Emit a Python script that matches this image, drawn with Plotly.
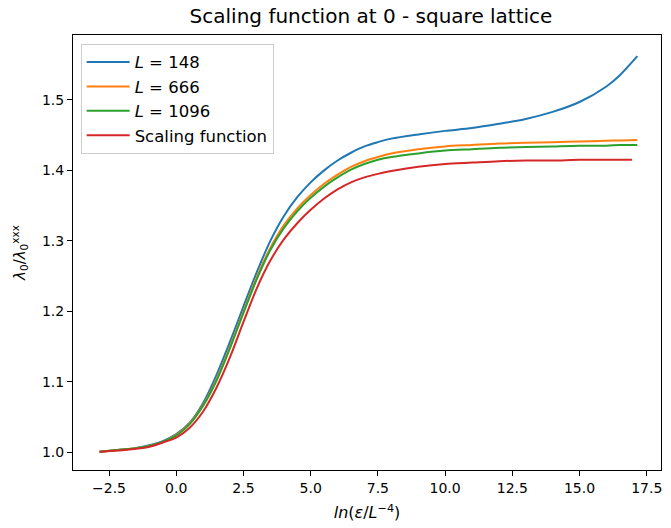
import plotly.graph_objects as go

# Data
x_L = [-2.85, -2, -1.5, -1, -0.5, 0, 0.5, 1, 1.5, 2, 2.5, 3, 3.5, 4, 4.5, 5, 5.5, 6, 6.5, 7, 7.5, 8, 9, 10, 11, 12, 13, 14, 15, 16, 16.5, 17.15]
blue_L148 = [1.001, 1.004, 1.006, 1.010, 1.016, 1.026, 1.042, 1.070, 1.110, 1.157, 1.207, 1.256, 1.300, 1.335, 1.362, 1.383, 1.400, 1.414, 1.425, 1.434, 1.440, 1.445, 1.451, 1.456, 1.460, 1.466, 1.473, 1.483, 1.497, 1.519, 1.535, 1.562]
orange_L666 = [1.001, 1.004, 1.006, 1.009, 1.015, 1.025, 1.041, 1.067, 1.104, 1.150, 1.200, 1.249, 1.290, 1.322, 1.346, 1.365, 1.381, 1.394, 1.405, 1.413, 1.419, 1.424, 1.430, 1.434, 1.436, 1.438, 1.439, 1.440, 1.441, 1.442, 1.4425, 1.443]
green_L1096 = [1.001, 1.004, 1.006, 1.009, 1.015, 1.024, 1.040, 1.066, 1.102, 1.148, 1.198, 1.246, 1.287, 1.318, 1.342, 1.361, 1.377, 1.390, 1.401, 1.409, 1.415, 1.419, 1.424, 1.428, 1.430, 1.432, 1.433, 1.434, 1.435, 1.435, 1.436, 1.436]
x_scaling = [-2.85, -2, -1.5, -1, -0.5, 0, 0.5, 1, 1.5, 2, 2.5, 3, 3.5, 4, 4.5, 5, 5.5, 6, 6.5, 7, 7.5, 8, 9, 10, 11, 12, 13, 14, 15, 16, 16.5, 16.95]
red_scaling = [1.001, 1.003, 1.005, 1.008, 1.014, 1.021, 1.035, 1.058, 1.092, 1.135, 1.185, 1.233, 1.272, 1.302, 1.325, 1.344, 1.360, 1.373, 1.383, 1.390, 1.395, 1.399, 1.405, 1.409, 1.411, 1.413, 1.414, 1.414, 1.415, 1.415, 1.415, 1.415]

x_ticks = [-2.5, 0, 2.5, 5, 7.5, 10, 12.5, 15, 17.5]
x_ticklabels = ["−2.5", "0.0", "2.5", "5.0", "7.5", "10.0", "12.5", "15.0", "17.5"]
y_ticks = [1.0, 1.1, 1.2, 1.3, 1.4, 1.5]
y_ticklabels = ["1.0", "1.1", "1.2", "1.3", "1.4", "1.5"]

series = [
    ("<i>L</i> = 148", x_L, blue_L148, "#1f77b4"),
    ("<i>L</i> = 666", x_L, orange_L666, "#ff7f0e"),
    ("<i>L</i> = 1096", x_L, green_L1096, "#2ca02c"),
    ("Scaling function", x_scaling, red_scaling, "#d62728"),
]

fig = go.Figure()
for i, (name, xs, ys, col) in enumerate(series):
    fig.add_trace(go.Scatter(x=xs, y=ys, mode="lines", name=name,
                             line=dict(color=col, width=2, shape="spline", smoothing=0.8),
                             legendgroup=f"g{i}"))

font = "DejaVu Sans, sans-serif"
axis_common = dict(showline=True, linecolor="black", linewidth=1, mirror=True,
                   ticks="outside", ticklen=5, tickcolor="black", tickwidth=1,
                   showgrid=False, zeroline=False,
                   tickfont=dict(family=font, size=14, color="black"))

fig.update_layout(
    width=671, height=528,
    margin=dict(l=73, r=9, t=35, b=56),
    paper_bgcolor="white", plot_bgcolor="white",
    title=dict(text="Scaling function at 0 - square lattice", x=371 / 671, xanchor="center",
               y=1 - 16 / 528, yanchor="middle", font=dict(family=font, size=20, color="black")),
    xaxis=dict(range=[-3.84, 18.03], tickvals=x_ticks, ticktext=x_ticklabels,
               title=dict(text="<i>ln</i>(<i>ε</i>/<i>L</i><sup>−4</sup>)", standoff=12,
                          font=dict(family=font, size=16, color="black")),
               **axis_common),
    yaxis=dict(range=[0.975, 1.592], tickvals=y_ticks, ticktext=y_ticklabels,
               title=dict(text="<i>λ</i><sub>0</sub>/<i>λ</i><sub>0</sub><sup>xxx</sup>", standoff=12,
                          font=dict(family=font, size=15, color="black")),
               **axis_common),
    legend=dict(x=0.013, y=0.98, xanchor="left", yanchor="top",
                bordercolor="#cccccc", borderwidth=1, bgcolor="rgba(255,255,255,0.8)",
                font=dict(family=font, size=16.5, color="black"), tracegroupgap=0,
                itemwidth=43),
    showlegend=True,
)

fig.write_html("out.html")
